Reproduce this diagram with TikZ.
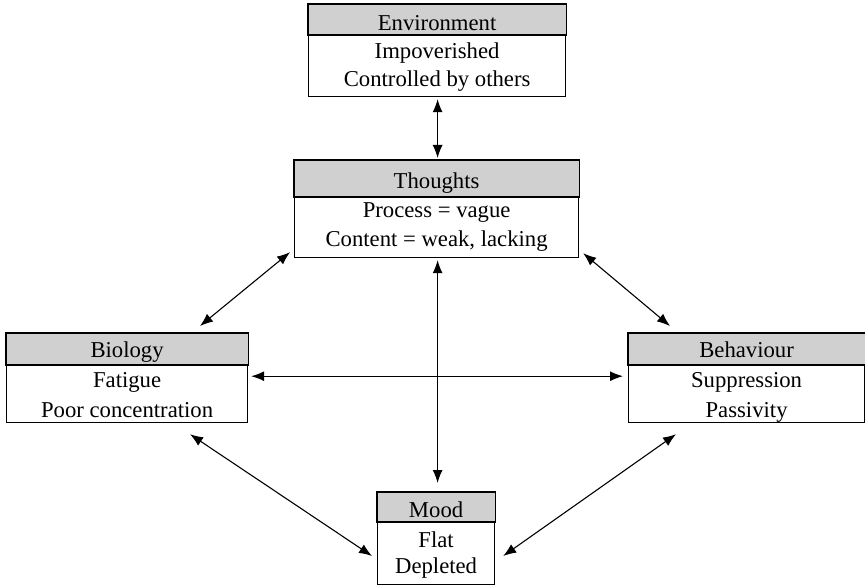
\documentclass[tikz,border=0pt]{standalone}
\usepackage{fontspec}
\setmainfont{Liberation Serif}
\usetikzlibrary{arrows.meta,calc}
\definecolor{hdr}{HTML}{D0D0D0}
\tikzset{
  boxnode/.style={draw=black, line width=1.2pt, inner sep=0pt, anchor=north west},
  hdrfill/.style={fill=hdr, draw=black, line width=1.2pt},
  txt/.style={font=\fontsize{22.7}{26}\selectfont, inner sep=0pt, anchor=base},
  link/.style={line width=1.1pt, {Latex[length=13pt,width=10pt]}-{Latex[length=13pt,width=10pt]}}
}
\begin{document}
\begin{tikzpicture}[x=1pt,y=-1pt]
\useasboundingbox (0,0) rectangle (865,585);
% Environment
\node[boxnode, minimum width=257pt, minimum height=92pt] (env) at (308,4) {};
\draw[hdrfill] (env.north west) rectangle ($(env.north east)+(0,31)$);
\node[txt] (envh) at ($(env.north)+(0,27)$) {Environment};
\node[txt] (env1) at ($(env.north)+(0,55)$) {Impoverished};
\node[txt] (env2) at ($(env.north)+(0,83)$) {Controlled by others};
% Thoughts
\node[boxnode, minimum width=284pt, minimum height=97pt] (tho) at (294,160) {};
\draw[hdrfill] (tho.north west) rectangle ($(tho.north east)+(0,37)$);
\node[txt] (thoh) at ($(tho.north)+(0,29)$) {Thoughts};
\node[txt] (tho1) at ($(tho.north)+(0,58)$) {Process = vague};
\node[txt] (tho2) at ($(tho.north)+(0,87)$) {Content = weak, lacking};
% Biology
\node[boxnode, minimum width=241pt, minimum height=89pt] (bio) at (6,333) {};
\draw[hdrfill] (bio.north west) rectangle ($(bio.north east)+(0,32)$);
\node[txt] (bioh) at ($(bio.north)+(0,25)$) {Biology};
\node[txt] (bio1) at ($(bio.north)+(0,54)$) {Fatigue};
\node[txt] (bio2) at ($(bio.north)+(0,84)$) {Poor concentration};
% Behaviour
\node[boxnode, minimum width=236pt, minimum height=89pt] (beh) at (628,333) {};
\draw[hdrfill] (beh.north west) rectangle ($(beh.north east)+(0,32)$);
\node[txt] (behh) at ($(beh.north)+(0,25)$) {Behaviour};
\node[txt] (beh1) at ($(beh.north)+(0,54)$) {Suppression};
\node[txt] (beh2) at ($(beh.north)+(0,84)$) {Passivity};
% Mood
\node[boxnode, minimum width=117pt, minimum height=92pt] (mood) at (377,492) {};
\draw[hdrfill] (mood.north west) rectangle ($(mood.north east)+(0,30)$);
\node[txt] (moodh) at ($(mood.north)+(0,25)$) {Mood};
\node[txt] (mood1) at ($(mood.north)+(0,55)$) {Flat};
\node[txt] (mood2) at ($(mood.north)+(0,81)$) {Depleted};
% Connectors
\draw[link] ($(env.south)+(0.5,2)$) -- ($(tho.north)+(1,-2)$);
\draw[link] ($(tho.south)+(1,2)$) -- ($(mood.north)+(1.5,-9)$);
\draw[link] ($(bio.south east)+(3,-47)$) -- ($(beh.south west)+(-5,-47)$);
\draw[link] ($(tho.south west)+(-4,-6)$) -- ($(bio.north west)+(194,-7)$);
\draw[link] ($(tho.south east)+(4,-5)$) -- ($(beh.north west)+(42,-7)$);
\draw[link] ($(bio.south west)+(184,11)$) -- ($(mood.north west)+(-5,64)$);
\draw[link] ($(beh.south west)+(48,11)$) -- ($(mood.north east)+(8,64)$);
\end{tikzpicture}
\end{document}
